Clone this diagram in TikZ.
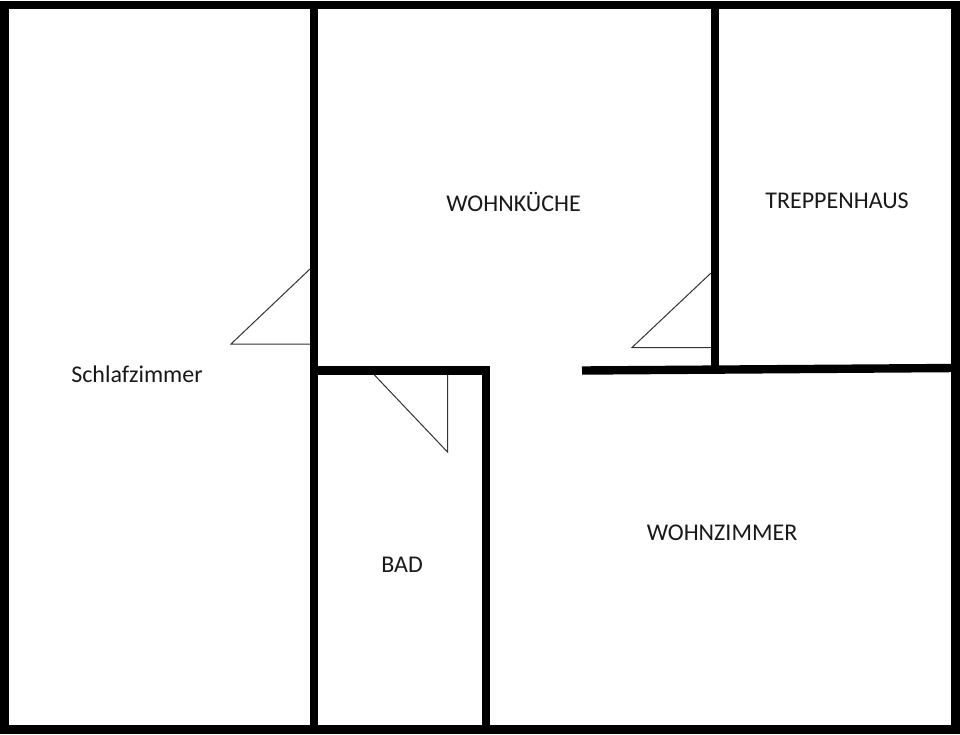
\documentclass[tikz,border=0pt]{standalone}
\usepackage{fontspec}
\setmainfont{Carlito}
\tikzset{
    wall/.style={line width=8.4pt, line cap=butt, line join=miter},
    door/.style={line width=1pt, draw=black!80},
    room/.style={font=\fontsize{24}{28}\selectfont, inner sep=0pt, text=black!90}
}

\begin{document}
\begin{tikzpicture}[x=1pt, y=-1pt]
    \useasboundingbox (0, 0) rectangle (960, 734);
    \fill[white] (0, 0) rectangle (960, 734);

    % doors
    \draw[door] (310, 269) -- (231, 344) -- (310, 344);
    \draw[door] (373.5, 374) -- (447.5, 452) -- (447.5, 374);
    \draw[door] (711, 273) -- (632, 347.5) -- (711, 347.5);

    % walls
    \draw[wall] (4.5, 5) rectangle (955.5, 729.5);
    \draw[wall] (314, 5) -- (314, 729.5);
    \draw[wall] (314, 370.5) -- (490, 370.5);
    \draw[wall] (486, 370.5) -- (486, 729.5);
    \draw[wall] (715, 5) -- (715, 370);
    \draw[wall] (582, 370.5) -- (955, 368);

    % rooms
    \node (schlaf) [room] at (137, 374) {Schlafzimmer};
    \node (kueche) [room] at (513.5, 202) {WOHNKÜCHE};
    \node (treppe) [room] at (837, 201) {TREPPENHAUS};
    \node (wohnz) [room] at (722, 533) {WOHNZIMMER};
    \node (bad) [room] at (402, 565) {BAD};
\end{tikzpicture}
\end{document}
